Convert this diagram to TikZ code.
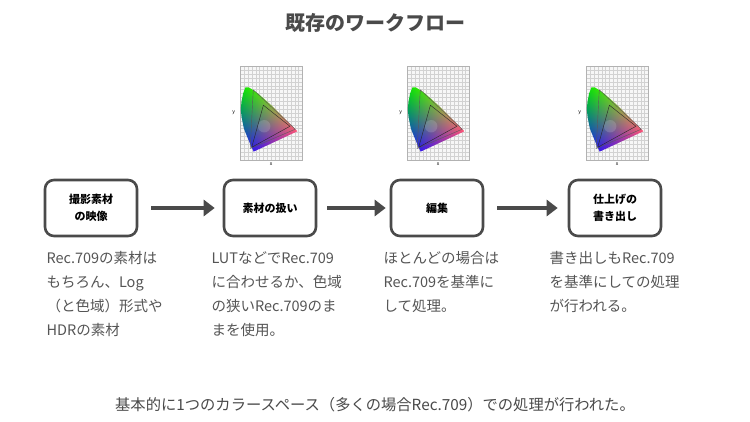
\documentclass[tikz,border=0pt]{standalone}
\usepackage{fontspec}
\setmainfont{Noto Sans CJK JP}
\usetikzlibrary{arrows.meta,shadings}
\definecolor{boxc}{HTML}{4A4A4A}
\definecolor{txtc}{HTML}{555555}
\tikzset{
  stepbox/.style={draw=boxc,line width=2.6pt,rounded corners=9pt,fill=white,minimum width=92pt,minimum height=56pt,align=center,font=\bfseries\fontsize{11}{17}\selectfont,text=black},
  flow/.style={draw=boxc,line width=3.5pt,-{Triangle[length=11pt,width=16pt]}},
  desc/.style={anchor=north west,align=left,text=txtc,font=\fontsize{14.5}{24}\selectfont},
  chart/.pic={
    \begin{scope}[x=78pt,y=78pt]
      \fill[white] (-0.12,-0.2) rectangle (0.86,1.18);
      \fill[gray!6] (0,-0.1) rectangle (0.8,1.1);
      \draw[gray!35,line width=0.2pt,step=0.05] (0,-0.1) grid (0.8,1.1);
      \draw[gray!60,line width=0.4pt] (0,-0.1) rectangle (0.8,1.1);
      \begin{scope}
        \clip (0.175,0.005) -- (0.14,0.08) -- (0.09,0.2) -- (0.05,0.3) -- (0.02,0.45) -- (0.01,0.55) -- (0.02,0.65) -- (0.04,0.75) -- (0.07,0.83) -- (0.11,0.83) -- (0.16,0.8) -- (0.23,0.75) -- (0.3,0.69) -- (0.4,0.6) -- (0.5,0.5) -- (0.6,0.4) -- (0.7,0.3) -- (0.735,0.265) -- cycle;
        \shade[upper left=green!90!black,upper right=yellow,lower left=blue!90!cyan,lower right=magenta!70!red] (0,0) rectangle (0.74,0.84);
        \fill[white,opacity=0.15] (0.31,0.33) circle (0.08);
      \end{scope}
      \draw[gray!70!black,line width=0.4pt] (0.708,0.292) -- (0.17,0.797) -- (0.131,0.046) -- cycle;
      \draw[gray!30!black,line width=0.4pt] (0.64,0.33) -- (0.3,0.6) -- (0.15,0.06) -- cycle;
      \node[font=\fontsize{5}{5}\selectfont] at (0.4,-0.16) {x};
      \node[font=\fontsize{5}{5}\selectfont] at (-0.08,0.5) {y};
    \end{scope}
  }
}
\begin{document}
\begin{tikzpicture}[x=1pt,y=-1pt]
\useasboundingbox[fill=white] (0,0) rectangle (750,422);
\node[font=\bfseries\fontsize{20}{20}\selectfont,text=boxc] (title) at (375,23) {既存のワークフロー};
\pic at (240,152) {chart};
\pic at (407,152) {chart};
\pic at (586,152) {chart};
\node[stepbox] (b1) at (91,208) {撮影素材\\の映像};
\node[stepbox] (b2) at (270,208) {素材の扱い};
\node[stepbox] (b3) at (437,208) {編集};
\node[stepbox] (b4) at (615,208) {仕上げの\\書き出し};
\draw[flow] (b1.east) ++(13,0) -- ([xshift=-8pt]b2.west);
\draw[flow] (b2.east) ++(10,0) -- ([xshift=-4pt]b3.west);
\draw[flow] (b3.east) ++(13,0) -- ([xshift=-10pt]b4.west);
\node[desc] (d1) at (43,248) {Rec.709の素材は\\もちろん、Log\\（と色域）形式や\\HDRの素材};
\node[desc] (d2) at (208,248) {LUTなどでRec.709\\に合わせるか、色域\\の狭いRec.709のま\\まを使用。};
\node[desc] (d3) at (380,248) {ほとんどの場合は\\Rec.709を基準に\\して処理。};
\node[desc] (d4) at (546,248) {書き出しもRec.709\\を基準にしての処理\\が行われる。};
\node[text=boxc,font=\fontsize{15.3}{16}\selectfont] (foot) at (375,405) {基本的に1つのカラースペース（多くの場合Rec.709）での処理が行われた。};
\end{tikzpicture}
\end{document}
